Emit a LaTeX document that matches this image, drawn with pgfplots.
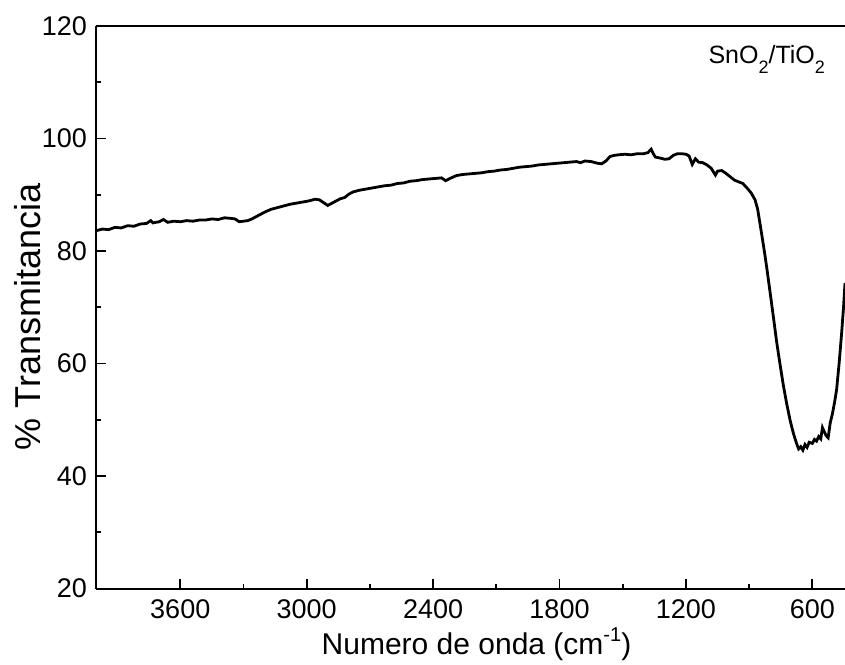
\documentclass[border=0pt]{standalone}
\usepackage{pgfplots}
\pgfplotsset{compat=1.18}
\usepackage{fontspec}
\setmainfont{Liberation Sans}
\pgfplotstableread{
w t
4000 83.6
3970 83.9
3940 83.8
3910 84.2
3880 84.1
3850 84.5
3820 84.4
3790 84.8
3760 84.9
3740 85.4
3730 85.0
3700 85.2
3680 85.6
3660 85.1
3630 85.3
3600 85.2
3570 85.4
3540 85.3
3510 85.5
3480 85.5
3450 85.7
3420 85.6
3390 85.9
3360 85.8
3340 85.7
3320 85.2
3300 85.3
3280 85.4
3260 85.7
3230 86.3
3200 86.9
3170 87.4
3140 87.7
3110 88.0
3080 88.3
3050 88.5
3020 88.7
2990 88.9
2960 89.2
2940 89.1
2920 88.6
2900 88.1
2880 88.5
2860 88.9
2840 89.3
2820 89.5
2800 90.1
2780 90.5
2750 90.8
2720 91.0
2690 91.2
2660 91.4
2630 91.6
2600 91.7
2570 92.0
2540 92.1
2510 92.4
2480 92.5
2450 92.7
2420 92.8
2390 92.9
2360 93.0
2340 92.5
2320 92.9
2290 93.4
2260 93.6
2230 93.7
2200 93.8
2170 93.9
2140 94.1
2110 94.2
2080 94.4
2050 94.5
2020 94.7
1990 94.9
1960 95.0
1930 95.1
1900 95.3
1870 95.4
1840 95.5
1810 95.6
1780 95.7
1750 95.8
1720 95.9
1700 95.7
1680 96.0
1650 95.9
1620 95.6
1600 95.5
1580 96.0
1560 96.8
1540 97.0
1520 97.1
1490 97.2
1460 97.1
1430 97.3
1400 97.3
1380 97.5
1365 98.1
1355 97.3
1345 96.7
1320 96.5
1300 96.3
1280 96.4
1260 97.0
1240 97.3
1220 97.3
1200 97.2
1185 96.9
1170 95.4
1155 96.4
1140 95.8
1120 95.7
1100 95.3
1080 94.7
1060 93.5
1050 94.2
1030 94.3
1010 93.8
990 93.2
970 92.6
950 92.3
930 92.0
910 91.2
890 90.3
872 89.1
860 87.5
849 85.0
830 80.5
817 77.2
800 72.5
785 68.3
770 64.0
754 60.0
738 56.2
722 52.9
705 49.8
690 47.6
675 45.8
665 44.8
655 45.2
645 44.6
635 45.6
625 45.1
615 46.0
600 45.8
590 46.5
580 46.2
570 47.0
560 46.6
552 48.6
545 48.0
535 47.2
525 46.8
515 49.5
505 51.0
495 53.0
485 55.3
473 60.0
461 65.4
452 70.0
445 74.3
}\spectrum
\begin{document}
\begin{tikzpicture}
\begin{axis}[
  scale only axis,
  width=374.5pt, height=281.25pt,
  x dir=reverse,
  xmin=445, xmax=4000, ymin=20, ymax=120,
  axis x line*=box, axis y line*=left,
  xtick={600,1200,...,3600}, ytick={20,40,...,120},
  minor x tick num=1, minor y tick num=1,
  xtick pos=bottom, ytick pos=left,
  tick align=inside,
  major tick length=5pt, minor tick length=2.5pt,
  axis line style={line width=1pt, black},
  every tick/.style={black, line width=0.9pt},
  /pgf/number format/assume math mode=true,
  /pgf/number format/1000 sep={},
  tick label style={font=\fontsize{13.5}{15}\selectfont},
  xticklabel style={yshift=-2pt},
  yticklabel style={xshift=-1pt},
  xlabel={Numero de onda (cm\raisebox{0.45em}{\fontsize{10}{10}\selectfont -1})},
  ylabel={\% Transmitancia},
  xlabel style={font=\fontsize{15}{18}\selectfont, at={(axis description cs:0.508,0)}, anchor=base, yshift=-33pt},
  ylabel style={font=\fontsize{18}{21}\selectfont, at={(axis description cs:-0.0908,0.483)}, anchor=center},
  clip=true,
]
\addplot[black, line width=1.4pt] table[x=w, y=t] {\spectrum};
\node[anchor=base east, font=\fontsize{12.5}{14}\selectfont] at (axis cs:507,113.4)
  {SnO\raisebox{-0.4em}{\fontsize{9}{9}\selectfont 2}/TiO\raisebox{-0.4em}{\fontsize{9}{9}\selectfont 2}};
\coordinate (sw) at (rel axis cs:0,0);
\coordinate (ne) at (rel axis cs:1,1);
\end{axis}
\pgfresetboundingbox
\path[use as bounding box] ([xshift=-48pt,yshift=-37.75pt]sw) rectangle ([yshift=13pt]ne);
\end{tikzpicture}
\end{document}
